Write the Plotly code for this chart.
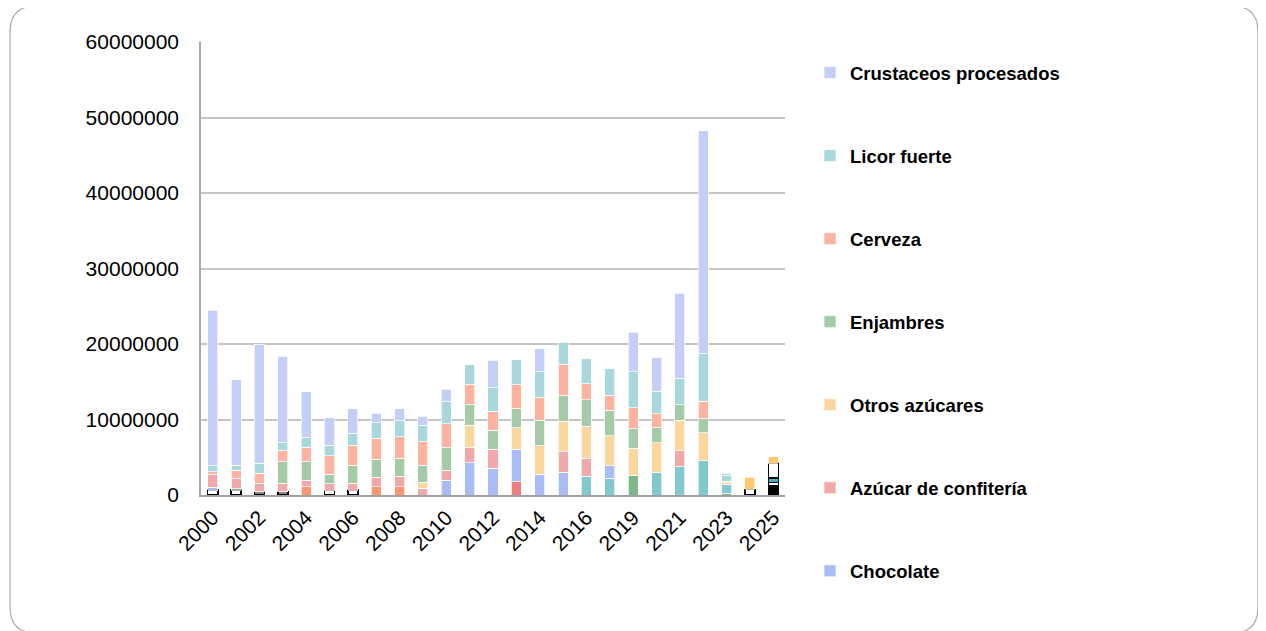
import plotly.graph_objects as go

years = ["2000", "2001", "2002", "2003", "2004", "2005", "2006", "2007", "2008",
         "2009", "2010", "2011", "2012", "2013", "2014", "2015", "2016", "2017",
         "2019", "2020", "2021", "2022", "2023", "2024", "2025"]
shown_ticks = ["2000", "2002", "2004", "2006", "2008", "2010", "2012", "2014",
               "2016", "2019", "2021", "2023", "2025"]

N = None
# legend series (bottom -> top)
chocolate = [400000, N, N, N, N, N, N, N, N, N, 1980000, 4270000, 3520000, 4320000,
             2780000, 3000000, N, 1680000, N, N, N, N, N, N, N]
azucar_confiteria = [1700000, 1400000, 1100000, 1090000, 880000, 850000, 940000, 1280000,
                     1410000, 880000, 1320000, 2030000, 2520000, N, N, 2730000, 2380000,
                     N, N, N, 2110000, N, N, N, N]
otros_azucares = [N, N, N, N, N, N, N, N, N, 790000, N, 2950000, N, 2860000, 3740000,
                  4050000, 4230000, 3960000, 3530000, 3920000, 4050000, 3700000, 170000, N, N]
enjambres = [N, N, N, 2860000, 2420000, 1240000, 2340000, 2330000, 2340000, 2250000,
             3000000, 2690000, 2550000, 2510000, 3390000, 3350000, 3520000, 3390000,
             2600000, 2020000, 2070000, 1890000, N, N, N]
cerveza = [350000, 1100000, 1320000, 1550000, 1900000, 2460000, 2690000, 2780000, 2850000,
           3130000, 3170000, 2730000, 2510000, 3220000, 2950000, 4180000, 2120000, 1990000,
           2770000, 1850000, N, 2290000, 180000, N, N]
licor_fuerte = [800000, 660000, 1330000, 970000, 1320000, 1370000, 1590000, 2070000, 2120000,
                2200000, 2860000, 2600000, 3090000, 3260000, 3440000, 2950000, 3300000,
                3520000, 4760000, 2950000, 3520000, 6300000, 760000, N, N]
crustaceos = [20600000, 11300000, 15770000, 11450000, 6080000, 3680000, 3220000, 1240000,
              1630000, 1190000, 1670000, N, 3650000, N, 3040000, N, N, N, 5240000,
              4500000, 11200000, 29520000, 300000, N, N]

# other (unlabelled) series
caja_negra = [N] * 24 + [950000]
caja_gris = [N, N, 450000, 450000] + [N] * 20 + [250000]
caja_blanca2 = [N] * 24 + [450000]
caja_turquesa = [N] * 24 + [600000]
caja_blanca = [650000, 650000, N, N, N, 650000, 650000] + [N] * 16 + [750000, 1950000]
verde_oscuro = [N, 150000] + [N] * 16 + [2640000, N, N, N, 220000, N, N]
naranja = [N, N, N, N, 1100000, N, N, 1100000, 1100000] + [N] * 16
rojo = [N] * 13 + [1760000] + [N] * 11
turquesa = [N] * 16 + [2510000, 2200000, N, 3000000, 3740000, 4540000, 1230000, N, N]
dorado = [N] * 23 + [1580000, 850000]

FONT = "Liberation Sans, Arial, sans-serif"

fig = go.Figure()

def add(name, vals, color, rank=None, line_color="rgba(255,255,255,0.9)", lw=0.8):
    fig.add_trace(go.Bar(
        x=years, y=vals, name=name, marker_color=color,
        marker_line_color=line_color, marker_line_width=lw,
        showlegend=rank is not None, legendgroup=name,
        legendrank=rank if rank is not None else 1000,
    ))

add("caja_negra", caja_negra, "#000000", line_color="#000000", lw=1.6)
add("caja_gris", caja_gris, "#8a8a8a", line_color="#000000", lw=1.6)
add("caja_blanca2", caja_blanca2, "#ffffff", line_color="#000000", lw=1.6)
add("caja_turquesa", caja_turquesa, "#3ab5c4", line_color="#000000", lw=1.6)
add("caja_blanca", caja_blanca, "#ffffff", line_color="#000000", lw=1.6)
add("verde_oscuro", verde_oscuro, "#7aba88")
add("naranja", naranja, "#fd9474")
add("rojo", rojo, "#ec7f7c")
add("turquesa", turquesa, "#81c9cf")
add("dorado", dorado, "#fdc96c")
add("Chocolate", chocolate, "#a9bcf5", rank=7)
add("Azúcar de confitería", azucar_confiteria, "#f1a8a8", rank=6)
add("Otros azúcares", otros_azucares, "#fbd69f", rank=5)
add("Enjambres", enjambres, "#a3cba8", rank=4)
add("Cerveza", cerveza, "#fdb3a0", rank=3)
add("Licor fuerte", licor_fuerte, "#a8d8dc", rank=2)
add("Crustaceos procesados", crustaceos, "#c3cff7", rank=1)

# page has an 8px body margin: work in page pixels, subtract offset
OFF = 8
W, H = 1266 - OFF, 631 - OFF
L, R, T, B = 201 - OFF, 785 - OFF, 42 - OFF, 495 - OFF

def px(x):
    return (x - OFF - L) / (R - L)

def py(y):
    return (B - (y - OFF)) / (B - T)

# rounded outer frame (page pixel coordinates)
x0, x1, y0, y1, r = 10, 1258, 6, 633, 26
path = (f"M {px(x0 + r)},{py(y0)} L {px(x1 - r)},{py(y0)} "
        f"Q {px(x1)},{py(y0)} {px(x1)},{py(y0 + r)} "
        f"L {px(x1)},{py(y1 - r)} Q {px(x1)},{py(y1)} {px(x1 - r)},{py(y1)} "
        f"L {px(x0 + r)},{py(y1)} Q {px(x0)},{py(y1)} {px(x0)},{py(y1 - r)} "
        f"L {px(x0)},{py(y0 + r)} Q {px(x0)},{py(y0)} {px(x0 + r)},{py(y0)} Z")

fig.update_layout(
    width=W, height=H,
    margin=dict(l=L, r=W - R, t=T, b=H - B, pad=0),
    barmode="stack", bargap=0.57,
    plot_bgcolor="white", paper_bgcolor="white",
    font=dict(family=FONT, color="#000000", size=21),
    shapes=[dict(type="path", path=path, xref="paper", yref="paper",
                 line=dict(color="#a8a8a8", width=1.2), fillcolor="rgba(0,0,0,0)",
                 layer="below")],
    legend=dict(
        x=px(810), y=py(54), xanchor="left", yanchor="top",
        traceorder="grouped", tracegroupgap=56, maxheight=620,
        font=dict(family=FONT, size=18.5, color="#000000", weight="bold"),
        bgcolor="rgba(0,0,0,0)", itemclick=False,
    ),
    xaxis=dict(
        type="category", categoryorder="array", categoryarray=years,
        tickmode="array", tickvals=shown_ticks, ticktext=shown_ticks,
        tickangle=-45, showgrid=False, showline=True, linecolor="#a0a0a0",
        linewidth=2, ticks="", tickfont=dict(size=21),
    ),
    yaxis=dict(
        range=[0, 60000000], dtick=10000000, tickformat="d",
        showgrid=True, gridcolor="#c4c4c4", gridwidth=1.5,
        showline=True, linecolor="#a8a8a8", linewidth=1.5,
        zeroline=False, ticks="", ticklabelstandoff=16, tickfont=dict(size=21),
    ),
)

fig.write_html("out.html")
